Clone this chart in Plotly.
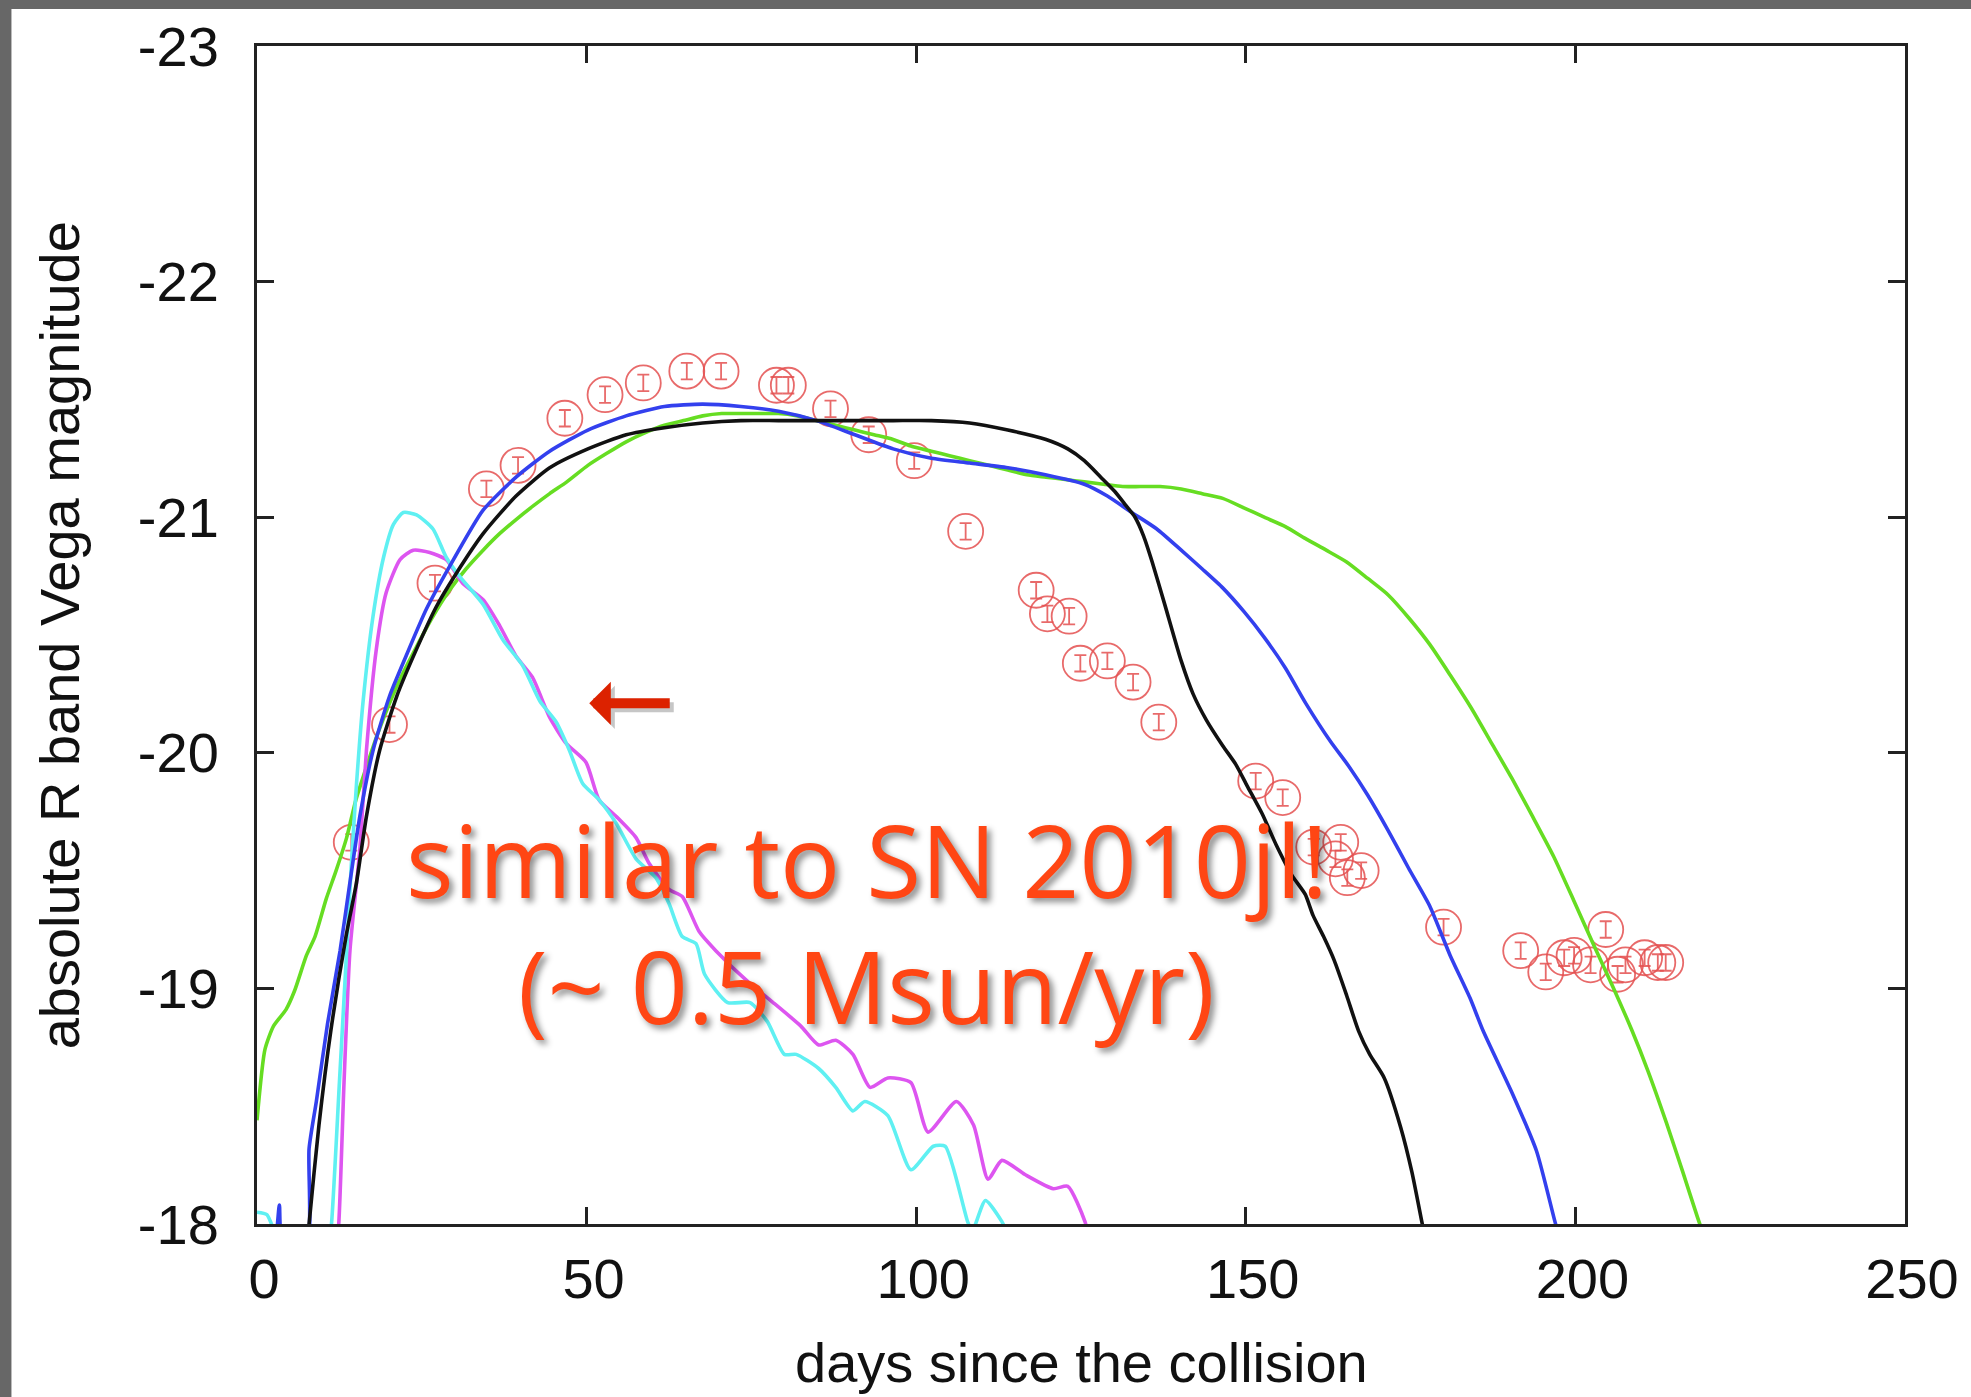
import plotly.graph_objects as go

# ---- SN 2010jl R-band photometry (days since collision, absolute Vega mag) ----
obs_day = [14.3, 20.1, 27.0, 34.8, 39.6, 46.7, 52.8, 58.6, 65.2, 70.4,
           78.8, 80.6, 87.0, 92.8, 99.7, 107.5, 118.2, 119.9, 123.2, 124.9,
           129.0, 132.9, 136.8, 151.5, 155.6, 160.3, 164.4, 163.6, 165.4, 167.5,
           180.0, 191.7, 195.5, 198.3, 199.8, 202.3, 204.6, 206.4, 207.6, 210.5,
           212.5, 213.7]
obs_mag = [-19.62, -20.12, -20.72, -21.12, -21.22, -21.42, -21.52, -21.57, -21.62, -21.62,
           -21.56, -21.56, -21.46, -21.35, -21.24, -20.94, -20.69, -20.59, -20.58, -20.38,
           -20.39, -20.30, -20.13, -19.88, -19.81, -19.60, -19.62, -19.55, -19.47, -19.50,
           -19.26, -19.16, -19.07, -19.13, -19.14, -19.10, -19.25, -19.06, -19.10, -19.13,
           -19.11, -19.11]
obs_err = 0.035

# ---- model light curves ----
green_day = [0, 1.2, 2.5, 4.4, 5.7, 7.5, 8.8, 10.5, 12.0, 13.6, 15.0, 16.6, 18.3, 20.1,
             22.0, 24.2, 26.5, 29.2, 31.7, 34.3, 36.8, 39.3, 42.0, 44.4, 47.0, 50.2, 53.0,
             56.0, 59.0, 61.8, 64.7, 67.6, 70.5, 73.4, 76.3, 79.1, 82.0, 84.9, 87.8, 90.7,
             93.6, 96.5, 99.4, 102.3, 105.2, 108.1, 111.0, 113.9, 116.8, 119.7, 122.6, 125.5,
             128.4, 131.3, 134.0, 137.0, 140.2, 143.4, 146.5, 149.7, 152.8, 156.0, 159.0,
             162.2, 165.3, 168.5, 171.6, 174.8, 177.9, 181.0, 184.2, 187.3, 190.4, 193.5,
             196.7, 199.8, 203.0, 205.8, 208.6, 211.0, 213.8, 216.3, 218.5, 219.5]
green_mag = [-18.44, -18.74, -18.84, -18.91, -18.99, -19.14, -19.22, -19.38, -19.50, -19.64,
             -19.80, -19.94, -20.08, -20.21, -20.33, -20.45, -20.57, -20.69, -20.78, -20.86,
             -20.93, -20.99, -21.05, -21.10, -21.15, -21.22, -21.27, -21.32, -21.36, -21.39,
             -21.41, -21.43, -21.44, -21.44, -21.44, -21.44, -21.43, -21.41, -21.39, -21.37,
             -21.35, -21.33, -21.30, -21.28, -21.26, -21.24, -21.22, -21.20, -21.18, -21.17,
             -21.16, -21.15, -21.14, -21.13, -21.13, -21.13, -21.12, -21.10, -21.08, -21.04,
             -21.00, -20.96, -20.91, -20.86, -20.81, -20.74, -20.67, -20.57, -20.46, -20.33,
             -20.19, -20.04, -19.89, -19.73, -19.56, -19.37, -19.17, -19.00, -18.82, -18.65,
             -18.43, -18.22, -18.03, -17.95]

blue_day = [2.9, 3.4, 3.9, 7.5, 7.9, 9.0, 10.7, 12.6, 14.1, 15.6, 17.6, 20.1, 22.6, 25.7,
            29.2, 34.3, 39.3, 44.4, 50.2, 56.0, 61.8, 67.6, 73.4, 79.1, 84.9, 90.7, 96.5,
            102.3, 108.1, 113.9, 119.6, 125.5, 129.0, 132.7, 136.5, 140.2, 143.4, 146.5,
            149.7, 152.8, 156.0, 159.1, 162.8, 165.7, 168.5, 171.6, 174.7, 177.9, 181.0,
            184.0, 186.0, 190.5, 194.1, 196.9, 198.0]
blue_mag = [-17.92, -18.08, -17.92, -17.90, -18.32, -18.52, -18.85, -19.16, -19.45, -19.73,
            -20.01, -20.24, -20.41, -20.61, -20.79, -21.03, -21.17, -21.28, -21.37, -21.43,
            -21.47, -21.48, -21.47, -21.45, -21.41, -21.35, -21.29, -21.25, -21.23, -21.21,
            -21.18, -21.14, -21.09, -21.02, -20.95, -20.86, -20.78, -20.70, -20.60, -20.49,
            -20.36, -20.21, -20.05, -19.94, -19.82, -19.67, -19.51, -19.35, -19.14, -18.96,
            -18.82, -18.55, -18.31, -18.01, -17.90]

black_day = [7.6, 7.9, 9.4, 11.2, 13.5, 15.1, 16.6, 18.6, 21.2, 24.2, 27.2, 30.2, 34.3,
             39.3, 44.4, 50.2, 56.0, 61.8, 67.6, 73.4, 79.1, 84.9, 90.7, 96.5, 102.3, 108.1,
             113.9, 119.7, 123.0, 125.5, 128.0, 130.1, 131.8, 133.2, 134.5, 135.8, 137.7,
             140.2, 142.0, 144.0, 146.5, 148.5, 150.2, 152.5, 154.6, 157.0, 159.0, 160.2,
             161.8, 163.4, 165.3, 167.1, 168.8, 171.0, 173.5, 175.2, 176.7, 177.5]
black_mag = [-17.90, -18.00, -18.42, -18.82, -19.22, -19.45, -19.73, -20.01, -20.24, -20.44,
             -20.62, -20.76, -20.93, -21.09, -21.21, -21.29, -21.35, -21.38, -21.40, -21.41,
             -21.41, -21.41, -21.41, -21.41, -21.41, -21.40, -21.37, -21.33, -21.29, -21.24,
             -21.17, -21.11, -21.05, -21.00, -20.92, -20.81, -20.63, -20.39, -20.25, -20.14,
             -20.03, -19.95, -19.86, -19.74, -19.61, -19.48, -19.40, -19.31, -19.22, -19.12,
             -18.97, -18.82, -18.72, -18.62, -18.41, -18.22, -18.01, -17.90]

cyan_day = [0.0, 1.5, 3.0, 10.9, 11.3, 12.5, 13.6, 14.3, 15.1, 16.1, 17.6, 19.2, 20.7, 22.2,
            24.2, 26.7, 28.7, 30.7, 34.3, 37.3, 40.3, 42.9, 45.4, 47.4, 49.4, 51.9, 54.5,
            57.5, 60.5, 62.5, 64.5, 66.6, 67.9, 71.4, 74.8, 77.4, 80.0, 81.8, 85.2, 87.8,
            90.4, 92.2, 95.7, 99.2, 102.6, 104.4, 107.8, 108.5, 110.5, 113.0, 114.0]
cyan_mag = [-18.05, -18.04, -17.96, -17.92, -18.00, -18.60, -19.16, -19.52, -19.87, -20.22,
            -20.58, -20.83, -20.97, -21.02, -21.01, -20.95, -20.83, -20.75, -20.63, -20.48,
            -20.37, -20.22, -20.13, -20.01, -19.87, -19.80, -19.70, -19.55, -19.47, -19.36,
            -19.22, -19.19, -19.06, -18.94, -18.94, -18.86, -18.72, -18.72, -18.66, -18.58,
            -18.48, -18.52, -18.46, -18.23, -18.33, -18.33, -18.01, -17.97, -18.10, -18.01,
            -17.95]

magenta_day = [12.0, 12.4, 13.2, 14.1, 15.6, 16.6, 18.1, 19.6, 21.7, 23.7, 26.2, 28.7, 31.2,
               34.3, 36.8, 39.3, 41.8, 44.4, 46.9, 49.9, 51.9, 54.5, 57.5, 59.5, 62.5, 64.5,
               67.1, 69.6, 74.8, 78.3, 82.5, 85.2, 87.8, 90.4, 93.0, 95.7, 99.2, 101.8, 106.1,
               108.7, 110.9, 113.0, 116.5, 120.8, 123.0, 125.6, 126.5]
magenta_mag = [-17.90, -18.00, -18.60, -19.16, -19.59, -20.01, -20.44, -20.68, -20.82, -20.86,
               -20.85, -20.82, -20.72, -20.65, -20.54, -20.41, -20.32, -20.15, -20.04, -19.96,
               -19.80, -19.73, -19.64, -19.53, -19.42, -19.39, -19.24, -19.16, -19.02, -18.94,
               -18.84, -18.76, -18.78, -18.72, -18.58, -18.62, -18.60, -18.39, -18.52, -18.42,
               -18.19, -18.27, -18.21, -18.15, -18.16, -18.01, -17.90]

x_ticks = [0, 50, 100, 150, 200, 250]
y_ticks = [-23, -22, -21, -20, -19, -18]

# ---- figure geometry (pixels) ----
W, H = 1971, 1397
L, R, T, B = 257, 1908, 46, 1224
PW, PH = R - L, B - T


def px_to_paper_x(px):
    return (px - L) / PW


def px_to_paper_y(py):
    return (B - py) / PH


AXIS_FONT = dict(family="Liberation Sans, Arial, Helvetica, sans-serif", size=56, color="#111111")
RED_MARK = "rgba(228,80,80,0.85)"

fig = go.Figure()

fig.add_trace(go.Scatter(
    x=obs_day, y=obs_mag, mode="markers",
    marker=dict(symbol="circle-open", size=35, color=RED_MARK, line=dict(width=1.8, color=RED_MARK)),
    error_y=dict(type="constant", value=obs_err, color=RED_MARK, thickness=1.8, width=6),
    showlegend=False, hoverinfo="skip",
))

curves = [
    (green_day, green_mag, "#66dd22"),
    (magenta_day, magenta_mag, "#dd55f0"),
    (cyan_day, cyan_mag, "#5ff0f2"),
    (blue_day, blue_mag, "#3340ee"),
    (black_day, black_mag, "#111111"),
]
for xs, ys, col in curves:
    fig.add_trace(go.Scatter(
        x=xs, y=ys, mode="lines", line=dict(color=col, width=3.6, shape="spline", smoothing=0.6),
        showlegend=False, hoverinfo="skip",
    ))

axis_common = dict(
    showgrid=False, zeroline=False, showline=True, linewidth=3, linecolor="#222222",
    mirror="ticks", ticks="inside", ticklen=17, tickwidth=2.5, tickcolor="#222222",
    tickfont=AXIS_FONT,
)

fig.update_xaxes(range=[0, 250], tickmode="array", tickvals=x_ticks,
                 ticktext=[str(v) for v in x_ticks], ticklabelstandoff=4,
                 ticklabelshift=7, **axis_common)
fig.update_yaxes(range=[-18, -23], tickmode="array", tickvals=y_ticks,
                 ticktext=[str(v) for v in y_ticks], ticklabelstandoff=24,
                 **axis_common)

annotations = [
    # axis titles
    dict(text="days since the collision", xref="paper", yref="paper",
         x=0.5, y=px_to_paper_y(1362), xanchor="center", yanchor="middle",
         showarrow=False, font=AXIS_FONT),
    dict(text="absolute R band Vega magnitude", xref="paper", yref="paper",
         x=px_to_paper_x(59), y=0.5, xanchor="center", yanchor="middle",
         textangle=-90, showarrow=False, font=AXIS_FONT),
]

# arrow pointing at the early peaks (shadow first, then the arrow itself)
for shift, col in [((4, -4), "rgba(0,0,0,0.22)"), ((0, 0), "#dc2200")]:
    annotations.append(dict(
        text="", x=50.4, y=-20.21, xref="x", yref="y",
        ax=82, ay=0, axref="pixel", ayref="pixel",
        showarrow=True, arrowhead=1, arrowsize=0.72, arrowwidth=10,
        arrowcolor=col, xshift=shift[0], yshift=shift[1],
    ))

CALLOUT_FONT = dict(family="Open Sans, Noto Sans, sans-serif", size=100, color="#ff4614",
                    shadow="4px 4px 6px rgba(0,0,0,0.45)")
annotations.append(dict(text="similar to SN 2010jl!", x=92.5, y=-19.55, xref="x", yref="y",
                        xanchor="center", yanchor="middle", showarrow=False, font=CALLOUT_FONT))
annotations.append(dict(text="(~ 0.5 Msun/yr)", x=92.5, y=-19.015, xref="x", yref="y",
                        xanchor="center", yanchor="middle", showarrow=False, font=CALLOUT_FONT))

# slide-style grey frame along the top and left edges
BAND = "#676767"
shapes = [
    dict(type="rect", xref="paper", yref="paper", layer="below",
         x0=-0.2, x1=px_to_paper_x(11), y0=-0.2, y1=1.1,
         fillcolor=BAND, line=dict(width=0)),
    dict(type="rect", xref="paper", yref="paper", layer="below",
         x0=-0.2, x1=1.1, y0=px_to_paper_y(9), y1=1.1,
         fillcolor=BAND, line=dict(width=0)),
]

fig.update_layout(
    width=W, height=H, autosize=False,
    margin=dict(l=L, r=W - R, t=T, b=H - B, pad=0),
    paper_bgcolor="white", plot_bgcolor="white",
    annotations=annotations, shapes=shapes,
    showlegend=False,
)

fig.write_html("out.html")
